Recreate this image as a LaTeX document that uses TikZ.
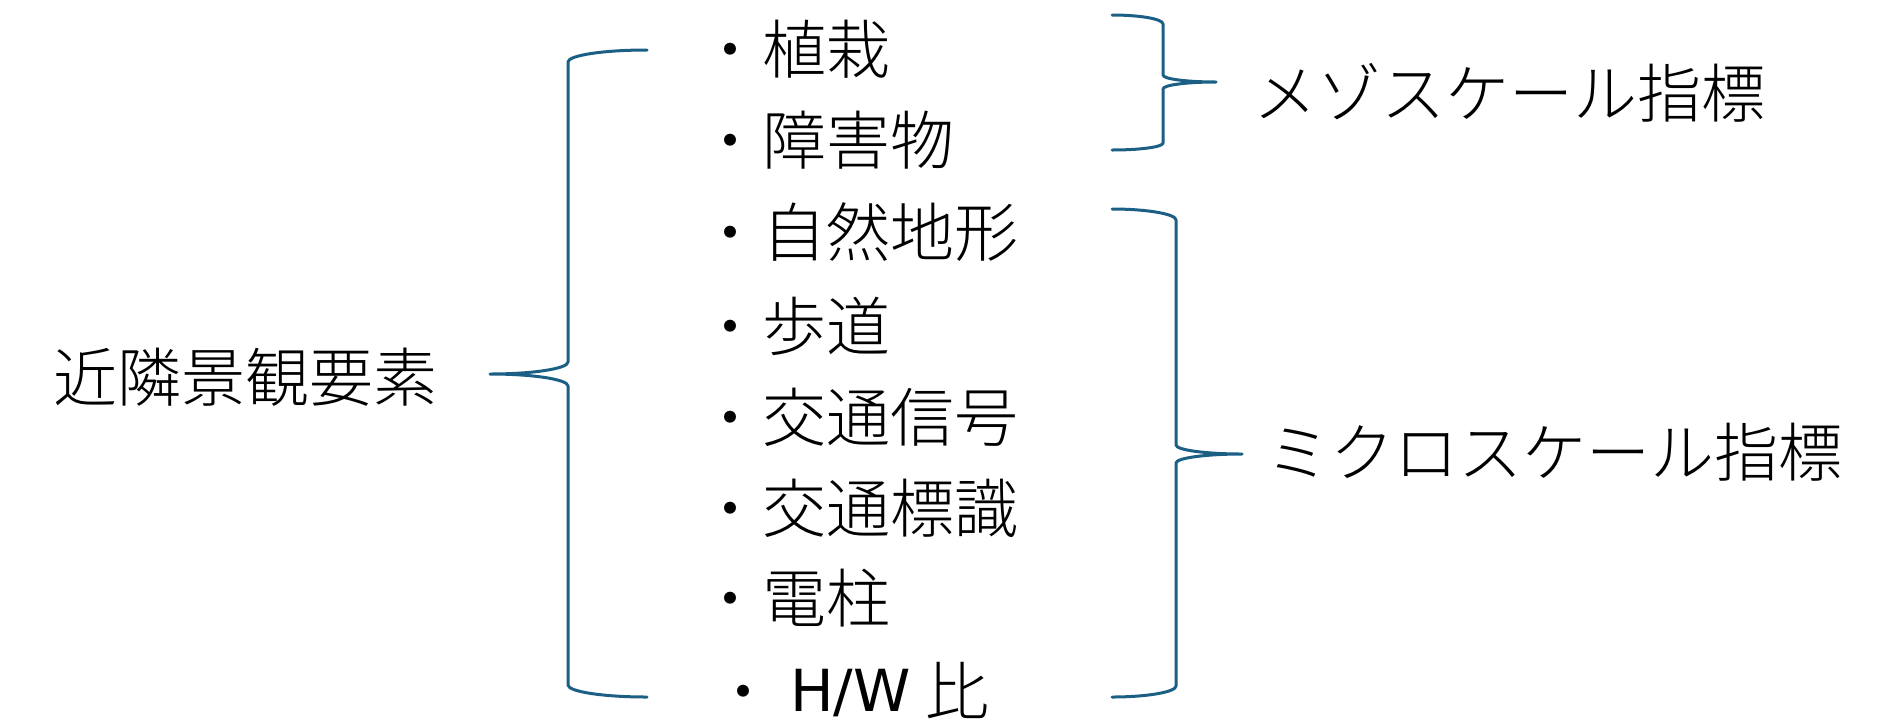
\documentclass[tikz,border=0pt]{standalone}
\usepackage{fontspec}
\newfontfamily\jp{Noto Sans CJK JP}[UprightFont={* Light}]
\newfontfamily\latinsans{DejaVu Sans}
\definecolor{brace}{RGB}{28,95,133}
\begin{document}
\begin{tikzpicture}[x=1pt,y=-1pt,
  bracestyle/.style={draw=brace,line width=3pt,line cap=round,line join=round},
  item/.style={anchor=base west,inner sep=0pt,font=\jp\fontsize{64}{64}\selectfont},
  label/.style={anchor=base west,inner sep=0pt,font=\jp\fontsize{64}{64}\selectfont}]
\useasboundingbox (0,0) rectangle (1882,724);
% main label
\node[label] (root) at (53,401) {近隣景観要素};
% items
\node[item] (i1) at (698,73) {・植栽};
\node[item] (i2) at (698,164) {・障害物};
\node[item] (i3) at (698,256) {・自然地形};
\node[item] (i4) at (698,350) {・歩道};
\node[item] (i5) at (698,441) {・交通信号};
\node[item] (i6) at (698,532) {・交通標識};
\node[item] (i7) at (698,622) {・電柱};
\node[item] (i8b) at (711,715) {・};
\node[item,font=\latinsans\fontsize{58}{58}\selectfont] (i8) at (790,711) {H/W};
\node[item] (i8c) at (925,715) {比};
% right labels
\node[label] (meso) at (1253,117) {メゾスケール指標};
\node[label] (micro) at (1266,476) {ミクロスケール指標};
% left brace
\coordinate (lt) at (647,50);
\coordinate (lb) at (647,697);
\coordinate (ltip) at (490,374);
\draw[bracestyle] (lt) .. controls (603,50) and (568,55.4) .. (568,62)
  -- (568,362) .. controls (568,368.6) and (533,374) .. (ltip)
  .. controls (533,374) and (568,379.4) .. (568,386)
  -- (568,685) .. controls (568,691.6) and (603,697) .. (lb);
% meso brace
\coordinate (mt) at (1112,15);
\coordinate (mb) at (1112,150);
\coordinate (mtip) at (1216,82);
\draw[bracestyle] (mt) .. controls (1140,15) and (1163,19) .. (1163,24)
  -- (1163,75) .. controls (1163,79) and (1187,82) .. (mtip)
  .. controls (1187,82) and (1163,85) .. (1163,89)
  -- (1163,143) .. controls (1163,147) and (1140,150) .. (mb);
% micro brace
\coordinate (ut) at (1112,209);
\coordinate (ub) at (1112,697);
\coordinate (utip) at (1242,454);
\draw[bracestyle] (ut) .. controls (1147,209) and (1176,214) .. (1176,220)
  -- (1176,445) .. controls (1176,450) and (1206,454) .. (utip)
  .. controls (1206,454) and (1176,458) .. (1176,463)
  -- (1176,686) .. controls (1176,692) and (1147,697) .. (ub);
\end{tikzpicture}
\end{document}
